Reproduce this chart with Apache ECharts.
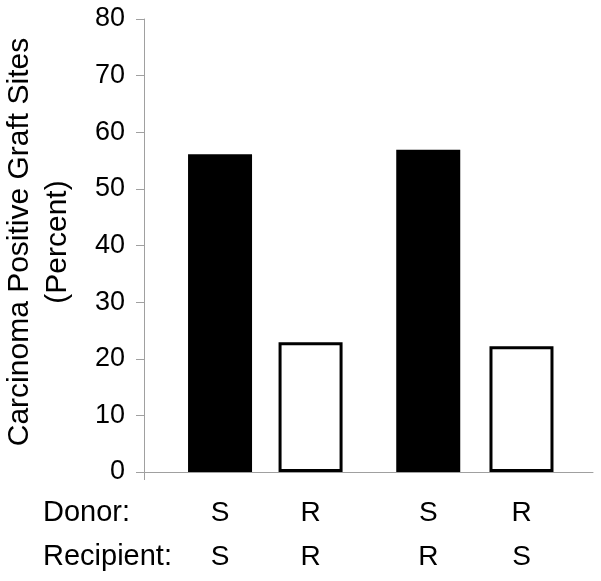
<!DOCTYPE html>
<html>
<head>
<meta charset="utf-8">
<script src="https://cdn.jsdelivr.net/npm/echarts@6/dist/echarts.min.js"></script>
<style>
  html, body { margin: 0; padding: 0; background: #fff; }
  #chart { width: 601px; height: 581px; }
</style>
</head>
<body>
<div id="chart"></div>
<script>
// chart values
var xPositions = [1, 2, 3.3, 4.33];
var donor = ["S", "R", "S", "R"];
var recipient = ["S", "R", "R", "S"];
var percent = [56.1, 22.9, 56.9, 22.2];
var yTicks = [0, 10, 20, 30, 40, 50, 60, 70, 80];
var rowHeaders = ["Donor:", "Recipient:"];
var yTitle = ["Carcinoma Positive Graft Sites", "(Percent)"];

var FONT = '"Liberation Sans", Arial, sans-serif';
var AXIS_GREY = "#a0a0a0";
var xMin = 0.16, xMax = 5.12;

// sensitive donor -> solid bar, resistant donor -> open bar
var fillFor = { S: "#000", R: "#fff" };

var barData = percent.map(function (v, i) {
  return {
    value: [xPositions[i], v],
    itemStyle: {
      color: fillFor[donor[i]],
      borderColor: "#000",
      borderWidth: donor[i] === "R" ? 3 : 0
    }
  };
});

var chartDom = document.getElementById("chart");
var myChart = echarts.init(chartDom);
var option;
option = {
  animation: false,
  backgroundColor: "#fff",
  grid: { left: 144, right: 8, top: 19, bottom: 109, containLabel: false },
  xAxis: {
    type: "value",
    min: xMin,
    max: xMax,
    splitLine: { show: false },
    axisLine: { show: true, lineStyle: { color: AXIS_GREY, width: 1 } },
    axisTick: { show: true, length: 8, customValues: [xMin], lineStyle: { color: AXIS_GREY } },
    axisLabel: {
      show: true,
      customValues: xPositions,
      margin: 19,
      color: "#000",
      fontFamily: FONT,
      fontSize: 28,
      lineHeight: 44,
      formatter: function (val) {
        var i = -1;
        for (var k = 0; k < xPositions.length; k++) {
          if (Math.abs(xPositions[k] - val) < 1e-6) i = k;
        }
        return i < 0 ? "" : donor[i] + "\n" + recipient[i];
      }
    }
  },
  yAxis: {
    type: "value",
    min: yTicks[0],
    max: yTicks[yTicks.length - 1],
    interval: 10,
    splitLine: { show: false },
    axisLine: { show: true, lineStyle: { color: AXIS_GREY, width: 1 } },
    axisTick: { show: true, length: 8, lineStyle: { color: AXIS_GREY } },
    axisLabel: {
      margin: 19,
      color: "#000",
      fontFamily: FONT,
      fontSize: 27
    }
  },
  graphic: [
    {
      type: "text",
      x: 39,
      y: 242,
      rotation: Math.PI / 2,
      style: {
        text: yTitle.join("\n"),
        fill: "#000",
        fontFamily: FONT,
        fontSize: 30,
        lineHeight: 38,
        align: "center",
        verticalAlign: "middle"
      }
    },
    {
      type: "text",
      x: 43,
      y: 491,
      style: {
        text: rowHeaders.join("\n"),
        fill: "#000",
        fontFamily: FONT,
        fontSize: 29,
        lineHeight: 44,
        align: "left",
        verticalAlign: "top"
      }
    }
  ],
  series: [
    {
      type: "bar",
      barWidth: 64,
      data: barData
    }
  ]
};

option && myChart.setOption(option);
</script>
</body>
</html>
